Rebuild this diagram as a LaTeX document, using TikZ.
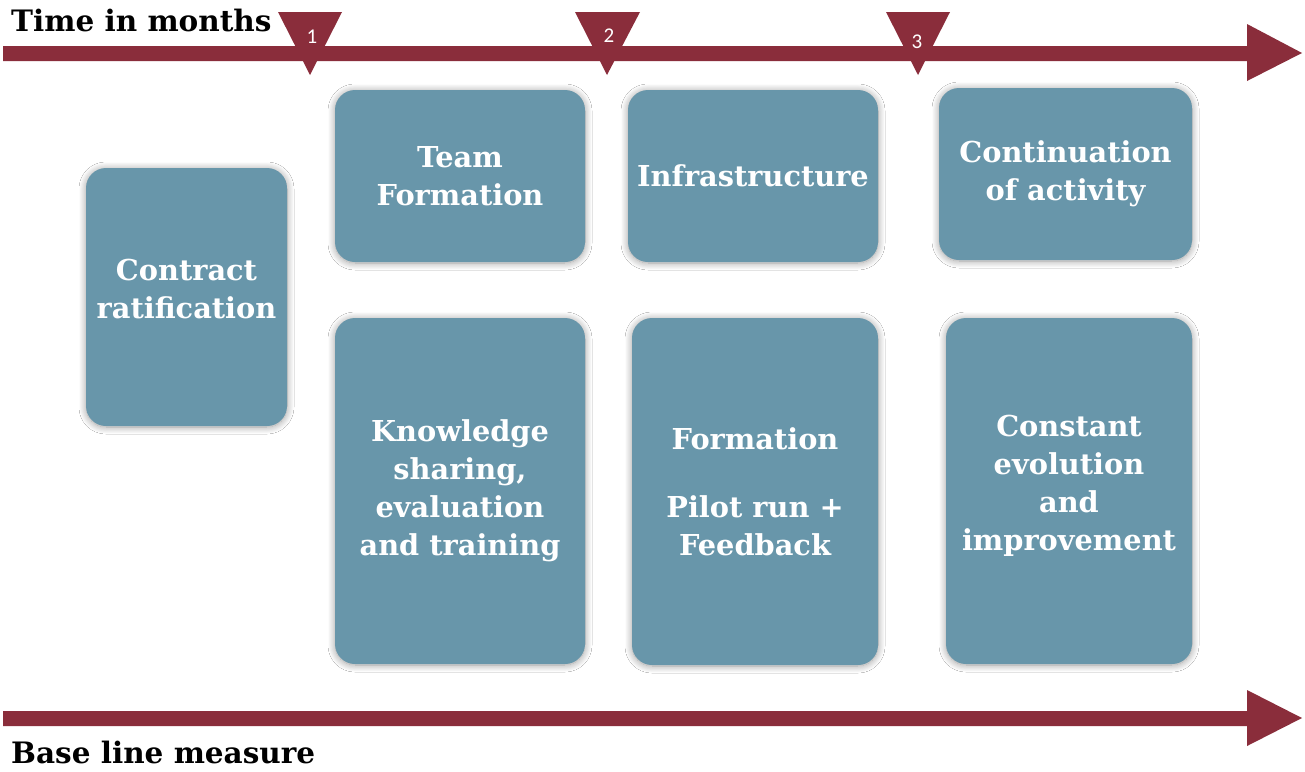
\documentclass[tikz,border=0pt]{standalone}
\usepackage{fontspec}
\setmainfont{DejaVu Serif}
\newfontfamily\numfont{Carlito}
\usetikzlibrary{shadows.blur}
\definecolor{tlred}{HTML}{8A2D3B}
\definecolor{boxblue}{HTML}{6896AA}
\tikzset{
  box/.style={fill=boxblue, rounded corners=20pt, align=center, text=white,
    font=\fontsize{28.8}{38}\selectfont\bfseries, inner sep=0pt,
    blur shadow={shadow xshift=0pt, shadow yshift=-1pt, shadow blur steps=12, shadow blur radius=7pt, shadow opacity=40}},
  tri/.style={fill=tlred},
  num/.style={text=white, font=\numfont\fontsize{21}{21}\selectfont, inner sep=0pt},
  lbl/.style={font=\fontsize{29.5}{32}\selectfont\bfseries, anchor=base west, inner sep=0pt}
}
\begin{document}
\begin{tikzpicture}[x=1pt,y=-1pt]
\useasboundingbox[fill=white] (0,0) rectangle (1305,771);
% top timeline arrow
\fill[tlred] (3,46) -- (1247,46) -- (1247,24) -- (1302,53) -- (1247,81) -- (1247,61) -- (3,61) -- cycle;
% bottom timeline arrow
\fill[tlred] (3,711) -- (1247,711) -- (1247,690) -- (1302,718) -- (1247,746) -- (1247,726) -- (3,726) -- cycle;
% month markers
\fill[tri] (278,12) -- (342,12) -- (310,75) -- cycle;
\fill[tri] (575,12) -- (640,12) -- (607,75) -- cycle;
\fill[tri] (886,12) -- (950,12) -- (918,75) -- cycle;
\node[num] (m1) at (312,37) {1};
\node[num] (m2) at (609,36) {2};
\node[num] (m3) at (917,42) {3};
% labels
\node[lbl] (tim) at (11,31) {Time in months};
\node[lbl] (blm) at (11,763) {Base line measure};
% boxes
\node[box, minimum width=201pt, minimum height=258pt] (contract) at (186.5,297) {};
\node[font=\fontsize{28.8}{38}\selectfont\bfseries, text=white, align=center, inner sep=0pt] (contracttxt) at (186.5,289) {Contract\\ratification};
\node[box, minimum width=250pt, minimum height=172pt] (team) at (460,176) {Team\\Formation};
\node[box, minimum width=250pt, minimum height=172pt] (infra) at (753,176) {Infrastructure};
\node[box, minimum width=253pt, minimum height=172pt] (cont) at (1065.5,174) {Continuation\\of activity};
\node[box, minimum width=250pt, minimum height=346pt] (know) at (460,491) {Knowledge\\sharing,\\evaluation\\and training};
\node[box, minimum width=246pt, minimum height=347pt] (form) at (755,491.5) {Formation\\[30pt]Pilot run +\\Feedback};
\node[box, minimum width=246pt, minimum height=346pt] (const) at (1069,491) {};
\node[font=\fontsize{28.8}{38}\selectfont\bfseries, text=white, align=center, inner sep=0pt] (consttxt) at (1069,486) {Constant\\evolution\\and\\improvement};
\end{tikzpicture}
\end{document}
